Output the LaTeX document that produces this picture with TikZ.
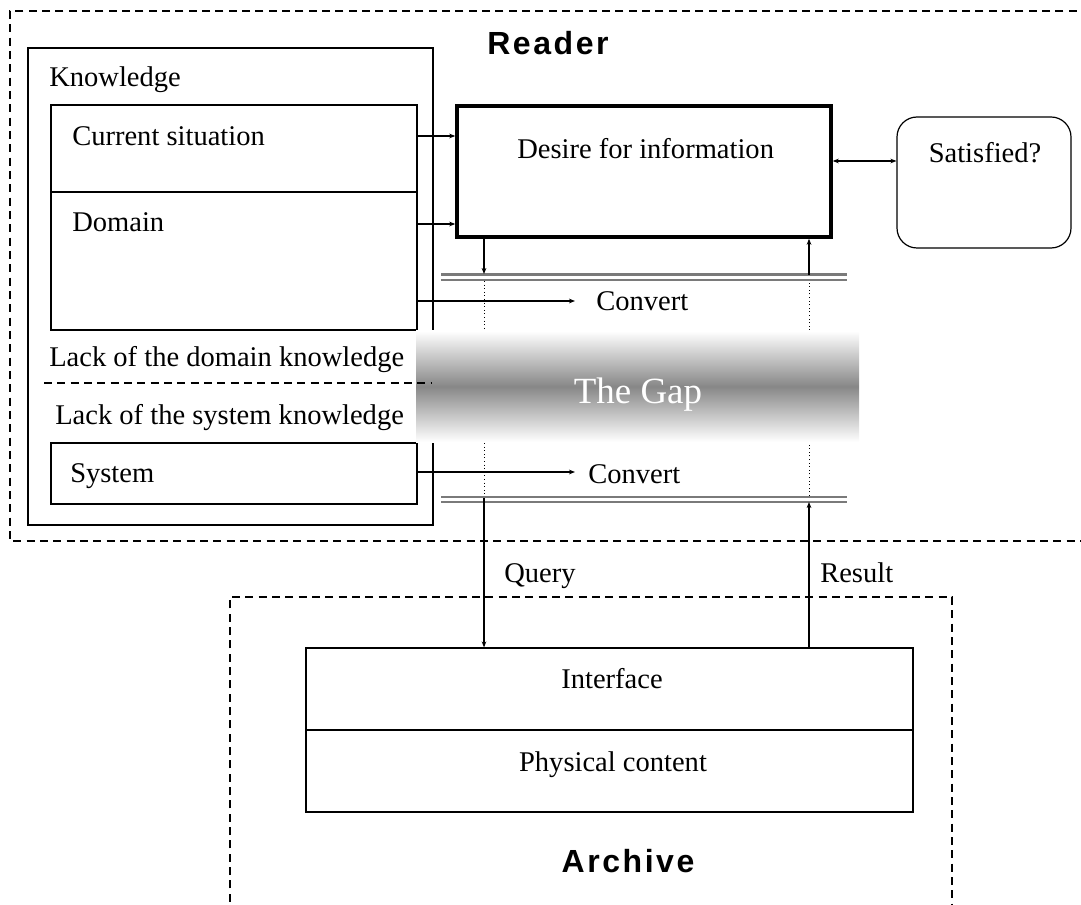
\documentclass[tikz,border=0pt]{standalone}
\usepackage{fontspec}
\setmainfont{Liberation Serif}
\newfontfamily\headfont[LetterSpace=8]{Liberation Sans}
\usetikzlibrary{arrows.meta}

\begin{document}
\begin{tikzpicture}[x=0.75pt,y=-0.75pt,
  lbl/.style={inner sep=0pt, font=\fontsize{21.4pt}{24pt}\selectfont},
  head/.style={inner sep=0pt, font=\headfont\bfseries\fontsize{24pt}{28pt}\selectfont},
  frame/.style={draw, line width=0.9pt, inner sep=0pt},
  thickframe/.style={draw, line width=2.7pt, inner sep=0pt},
  link/.style={line width=0.8pt, -{Stealth[length=4.5pt,width=3.5pt]}},
  biglink/.style={line width=0.8pt, {Stealth[length=4.5pt,width=3.5pt]}-{Stealth[length=4.5pt,width=3.5pt]}},
  groupline/.style={line width=1pt, dash pattern=on 6pt off 4pt},
  railline/.style={line width=1.6pt, black!52},
  hidden/.style={line width=0.7pt, dotted}
]
\useasboundingbox (0,0) rectangle (1081,905);

% ---- group frames ----
\draw[groupline] (1090,11) -- (10,11) -- (10,541) -- (1090,541);
\draw[groupline] (230,915) -- (230,597) -- (952,597) -- (952,915);
\node[head, anchor=base west] (reader) at (487,55) {Reader};
\node[head, anchor=base] (archive) at (628,872) {Archive};

% ---- knowledge column ----
\node[frame, minimum width=303.75pt, minimum height=357.75pt] (know) at (230.5,286.5) {};
\node[lbl, anchor=base west] (tknow) at (49,87) {Knowledge};
\node[frame, minimum width=274.5pt, minimum height=65.25pt] (cursit) at (234,148.5) {};
\node[frame, minimum width=274.5pt, minimum height=103.5pt] (domain) at (234,261) {};
\node[frame, minimum width=274.5pt, minimum height=45.75pt] (system) at (234,473.5) {};
\node[lbl, anchor=base west] (tcursit) at (72,146) {Current situation};
\node[lbl, anchor=base west] (tdomain) at (72,232) {Domain};
\node[lbl, anchor=base west] (tsystem) at (70,482) {System};
\node[lbl, anchor=base west] (lackdom) at (49,367) {Lack of the domain knowledge};
\node[lbl, anchor=base west] (lacksys) at (55,424) {Lack of the system knowledge};

% ---- desire and satisfaction ----
\node[thickframe, minimum width=280.5pt, minimum height=98.25pt] (desire) at (644,171.5) {};
\node[lbl, anchor=base west] (tdesire) at (517,159) {Desire for information};
\node[frame, rounded corners=15pt, minimum width=130.5pt, minimum height=98.25pt] (sat) at (984,182.5) {};
\node[lbl, anchor=base] (tsat) at (985,163) {Satisfied?};

% ---- archive ----
\node[frame, minimum width=455.25pt, minimum height=61.5pt] (iface) at (609.5,689) {};
\node[frame, minimum width=455.25pt, minimum height=61.5pt] (phys) at (609.5,771) {};
\node[lbl, anchor=base] (tiface) at (612,688) {Interface};
\node[lbl, anchor=base] (tphys) at (613,771) {Physical content};

% ---- convert labels and row coordinates ----
\node[lbl, anchor=base west] (conv1) at (596,311) {Convert};
\node[lbl, anchor=base west] (conv2) at (588,483) {Convert};
\node[lbl, anchor=base west] (query) at (504,582) {Query};
\node[lbl, anchor=base west] (result) at (820,582) {Result};
\coordinate (r136) at (0,136);
\coordinate (r161) at (0,161);
\coordinate (r224) at (0,224);
\coordinate (cv1tip) at (575,301);
\coordinate (cv2tip) at (575,472);

% ---- knowledge feeds ----
\draw[link] (cursit.east |- r136) -- (desire.west |- r136);
\draw[link] (domain.east |- r224) -- (desire.west |- r224);
\draw[link] (domain.east |- cv1tip) -- (cv1tip);
\draw[link] (system.east |- cv2tip) -- (cv2tip);
\draw[biglink] (desire.east |- r161) -- (sat.west |- r161);

% ---- conversion rails ----
\draw[railline] (441,274.5) -- (847,274.5);
\draw[railline] (441,280) -- (847,280);
\draw[railline] (441,497) -- (847,497);
\draw[railline] (441,502) -- (847,502);

% ---- query and result paths ----
\coordinate (ql1) at (484,274);
\coordinate (ql2) at (484,281);
\coordinate (ql3) at (484,496);
\coordinate (ql4) at (484,498);
\coordinate (rl1) at (809,275);
\coordinate (rl2) at (809,281);
\coordinate (rl3) at (809,496);
\coordinate (rl4) at (809,502);
\draw[link] (desire.south -| ql1) -- (ql1);
\draw[hidden] (ql2) -- (ql3);
\draw[link] (ql4) -- (iface.north -| ql4);
\draw[link] (iface.north -| rl4) -- (rl4);
\draw[hidden] (rl3) -- (rl2);
\draw[link] (rl1) -- (desire.south -| rl1);

% ---- the gap band ----
\node[inner sep=0pt, minimum width=332.25pt, minimum height=83.25pt,
      top color=white, bottom color=white, middle color=black!47] (gap) at (637.5,386.5) {};
\node[anchor=base, inner sep=0pt, text=white, font=\fontsize{27.7pt}{30pt}\selectfont] (tgap) at (638,403) {The Gap};
\draw[groupline] (44,383) -- (432,383);
\end{tikzpicture}
\end{document}
